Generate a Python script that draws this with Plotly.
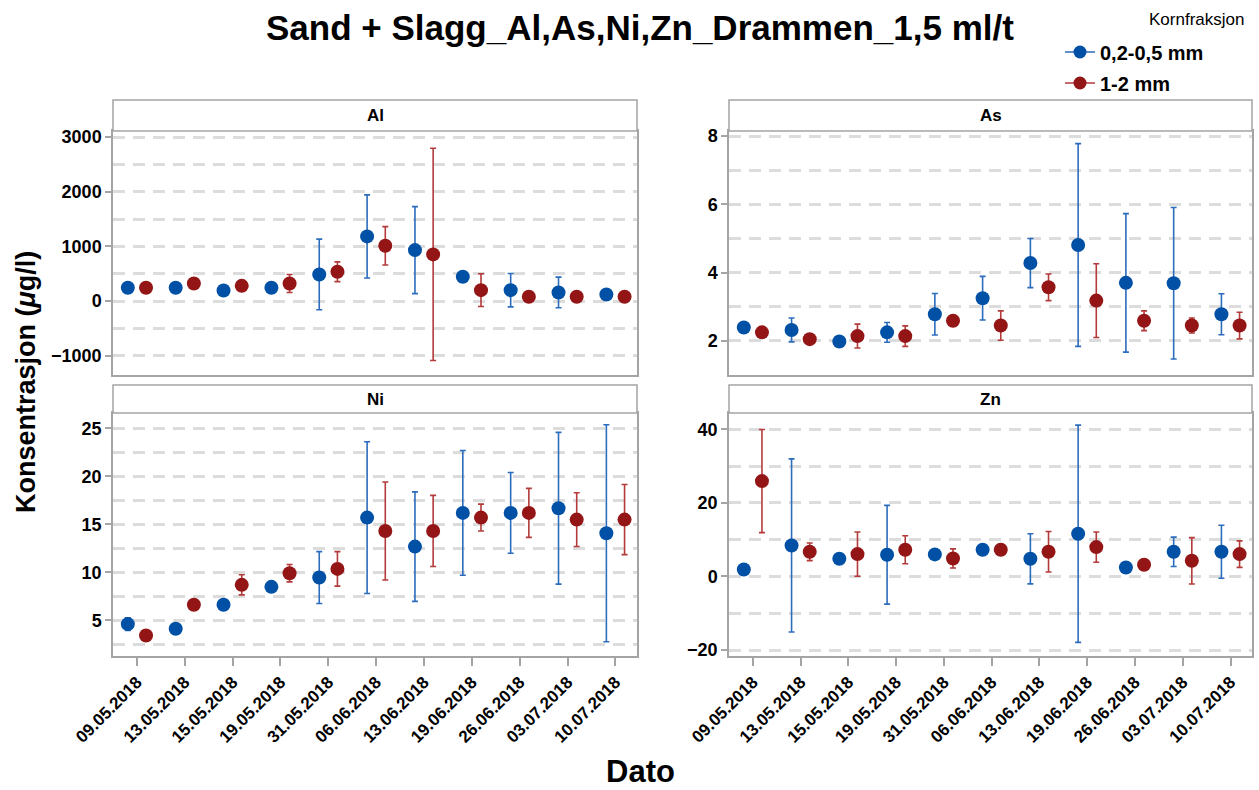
import plotly.graph_objects as go

# Sampling dates (shared by all four panels)
dates = ["09.05.2018", "13.05.2018", "15.05.2018", "19.05.2018", "31.05.2018",
         "06.06.2018", "13.06.2018", "19.06.2018", "26.06.2018", "03.07.2018",
         "10.07.2018"]

# Grain fractions
fractions = ["0,2-0,5 mm", "1-2 mm"]

# Mean concentrations (µg/l) and standard deviations, per element and fraction
al_fine = [244, 244, 195, 244, 488, 1183, 933, 445, 201, 159, 122]
al_fine_sd = [40, 40, 40, 40, 645, 760, 795, 60, 305, 280, 40]
al_coarse = [244, 323, 280, 323, 537, 1012, 854, 201, 79, 79, 79]
al_coarse_sd = [40, 60, 60, 165, 180, 350, 1940, 300, 50, 40, 40]

as_fine = [2.39, 2.32, 1.98, 2.25, 2.78, 3.25, 4.28, 4.81, 3.70, 3.69, 2.78]
as_fine_sd = [0.05, 0.35, 0.05, 0.29, 0.61, 0.64, 0.72, 2.97, 2.03, 2.22, 0.60]
as_coarse = [2.25, 2.05, 2.14, 2.14, 2.59, 2.45, 3.57, 3.18, 2.59, 2.45, 2.45]
as_coarse_sd = [0.05, 0.05, 0.35, 0.30, 0.08, 0.43, 0.39, 1.08, 0.29, 0.22, 0.39]

ni_fine = [4.62, 4.13, 6.63, 8.50, 9.47, 15.71, 12.69, 16.2, 16.2, 16.68, 14.08]
ni_fine_sd = [0.65, 0.1, 0.1, 0.45, 2.7, 7.9, 5.7, 6.5, 4.2, 7.9, 11.3]
ni_coarse = [3.44, 6.63, 8.71, 9.92, 10.37, 14.32, 14.32, 15.71, 16.2, 15.5, 15.5]
ni_coarse_sd = [0.1, 0.1, 1.05, 0.9, 1.8, 5.1, 3.7, 1.4, 2.55, 2.8, 3.65]

zn_fine = [1.9, 8.43, 4.8, 5.9, 6.0, 7.25, 4.8, 11.6, 2.45, 6.7, 6.7]
zn_fine_sd = [0.3, 23.5, 0.3, 13.4, 0.5, 0.5, 6.8, 29.5, 0.5, 4.0, 7.2]
zn_coarse = [25.9, 6.7, 6.07, 7.25, 4.9, 7.25, 6.7, 7.98, 3.17, 4.26, 6.07]
zn_coarse_sd = [14.0, 2.4, 6.0, 3.8, 2.6, 1.5, 5.5, 4.1, 1.0, 6.3, 3.6]

W, H = 1259, 790
FONT = "Liberation Sans, Arial, sans-serif"
BLUE, BLUE_ERR = "#0050a6", "#2c6cbd"
RED, RED_ERR = "#941515", "#b33b3b"
FRAME = "#a4a4a4"
GRID = "#dcdcdc"
GRID_DASH = "12px,8px"


def px_x(p):
    return p / W


def px_y(p):
    return 1 - p / H


# panel layout: (name, x0, x1, header_top, plot_top, plot_bottom, y-range, dtick, minor, fine, fine_sd, coarse, coarse_sd)
panels = [
    ("Al", 113, 637, 100, 131, 375, [-1350, 3110], 1000, 500,
     al_fine, al_fine_sd, al_coarse, al_coarse_sd),
    ("As", 729, 1252, 100, 131, 375, [1.0, 8.15], 2, 1,
     as_fine, as_fine_sd, as_coarse, as_coarse_sd),
    ("Ni", 113, 637, 385, 413, 656, [1.3, 26.6], 5, 2.5,
     ni_fine, ni_fine_sd, ni_coarse, ni_coarse_sd),
    ("Zn", 729, 1252, 385, 413, 656, [-21.6, 44.4], 20, 10,
     zn_fine, zn_fine_sd, zn_coarse, zn_coarse_sd),
]

DODGE = 0.19
idx = list(range(len(dates)))

fig = go.Figure()
layout = dict(
    width=W, height=H,
    margin=dict(l=0, r=0, t=0, b=0, autoexpand=False),
    paper_bgcolor="white", plot_bgcolor="white",
    font=dict(family=FONT, color="black"),
    showlegend=True,
)
shapes, annotations = [], []

for k, (name, x0, x1, htop, ptop, pbot, yr, dtick, minor,
        fine, fine_sd, coarse, coarse_sd) in enumerate(panels):
    n = "" if k == 0 else str(k + 1)
    xa, ya = "x" + n, "y" + n
    bottom_row = k >= 2

    fig.add_trace(go.Scatter(
        x=[i - DODGE for i in idx], y=fine, mode="markers",
        marker=dict(color=BLUE, size=14),
        error_y=dict(type="data", array=fine_sd, color=BLUE_ERR,
                     thickness=1.6, width=3),
        xaxis=xa, yaxis=ya, showlegend=False, name=fractions[0]))
    fig.add_trace(go.Scatter(
        x=[i + DODGE for i in idx], y=coarse, mode="markers",
        marker=dict(color=RED, size=14),
        error_y=dict(type="data", array=coarse_sd, color=RED_ERR,
                     thickness=1.6, width=3),
        xaxis=xa, yaxis=ya, showlegend=False, name=fractions[1]))

    layout["xaxis" + n] = dict(
        domain=[px_x(x0), px_x(x1)], anchor=ya, range=[-0.5, 10.45],
        automargin=False,
        tickmode="array", tickvals=idx, ticktext=dates,
        showticklabels=bottom_row, ticks="outside" if bottom_row else "",
        ticklen=8, tickwidth=1.5, tickcolor=FRAME, tickangle=-45,
        tickfont=dict(size=17, family=FONT, color="black", weight="bold"),
        showgrid=False, zeroline=False,
        showline=True, linecolor=FRAME, linewidth=1.5, mirror=True,
    )
    layout["yaxis" + n] = dict(
        domain=[px_y(pbot), px_y(ptop)], anchor=xa, range=yr,
        automargin=False,
        tick0=0, dtick=dtick, ticks="outside", ticklen=6, tickwidth=1.5,
        tickcolor=FRAME,
        tickfont=dict(size=18, family=FONT, color="black", weight="bold"),
        showgrid=True, gridcolor=GRID, gridwidth=2.5, griddash=GRID_DASH,
        minor=dict(dtick=minor, tick0=0, showgrid=True, gridcolor=GRID,
                   gridwidth=2.5, griddash=GRID_DASH, ticks=""),
        zeroline=False,
        showline=True, linecolor=FRAME, linewidth=1.5, mirror=True,
    )

    # strip header with the element name
    shapes.append(dict(type="rect", xref="paper", yref="paper",
                       x0=px_x(x0), x1=px_x(x1), y0=px_y(ptop), y1=px_y(htop),
                       line=dict(color=FRAME, width=1.5), fillcolor="white"))
    annotations.append(dict(text=name, xref="paper", yref="paper",
                            x=px_x((x0 + x1) / 2), y=px_y((htop + ptop) / 2),
                            xanchor="center", yanchor="middle", showarrow=False,
                            font=dict(size=17, family=FONT, weight="bold")))

# legend entries (one legend per fraction for precise spacing)
fig.add_trace(go.Scatter(x=[None], y=[None], mode="lines+markers",
                         name=fractions[0], legend="legend",
                         line=dict(color=BLUE_ERR, width=1.5),
                         marker=dict(color=BLUE, size=13)))
fig.add_trace(go.Scatter(x=[None], y=[None], mode="lines+markers",
                         name=fractions[1], legend="legend2",
                         line=dict(color=RED_ERR, width=1.5),
                         marker=dict(color=RED, size=13)))
leg_common = dict(xref="paper", yref="paper", xanchor="left", yanchor="middle",
                  bgcolor="rgba(0,0,0,0)", borderwidth=0,
                  font=dict(size=20, family=FONT, weight="bold"))
layout["legend"] = dict(x=px_x(1060), y=px_y(52), **leg_common)
layout["legend2"] = dict(x=px_x(1060), y=px_y(83), **leg_common)

annotations += [
    dict(text="Sand + Slagg_Al,As,Ni,Zn_Drammen_1,5 ml/t", xref="paper",
         yref="paper", x=px_x(640), y=px_y(28), xanchor="center",
         yanchor="middle", showarrow=False,
         font=dict(size=35, family=FONT, weight="bold")),
    dict(text="Kornfraksjon", xref="paper", yref="paper", x=px_x(1196),
         y=px_y(19), xanchor="center", yanchor="middle", showarrow=False,
         font=dict(size=17, family=FONT)),
    dict(text="Konsentrasjon (<i>μ</i>g/l)", xref="paper", yref="paper",
         x=px_x(26), y=px_y(382), xanchor="center", yanchor="middle",
         textangle=-90, showarrow=False,
         font=dict(size=27, family=FONT, weight="bold")),
    dict(text="Dato", xref="paper", yref="paper", x=px_x(640), y=px_y(771),
         xanchor="center", yanchor="middle", showarrow=False,
         font=dict(size=31, family=FONT, weight="bold")),
]
layout["shapes"] = shapes
layout["annotations"] = annotations
fig.update_layout(**layout)
fig.write_html("out.html")
